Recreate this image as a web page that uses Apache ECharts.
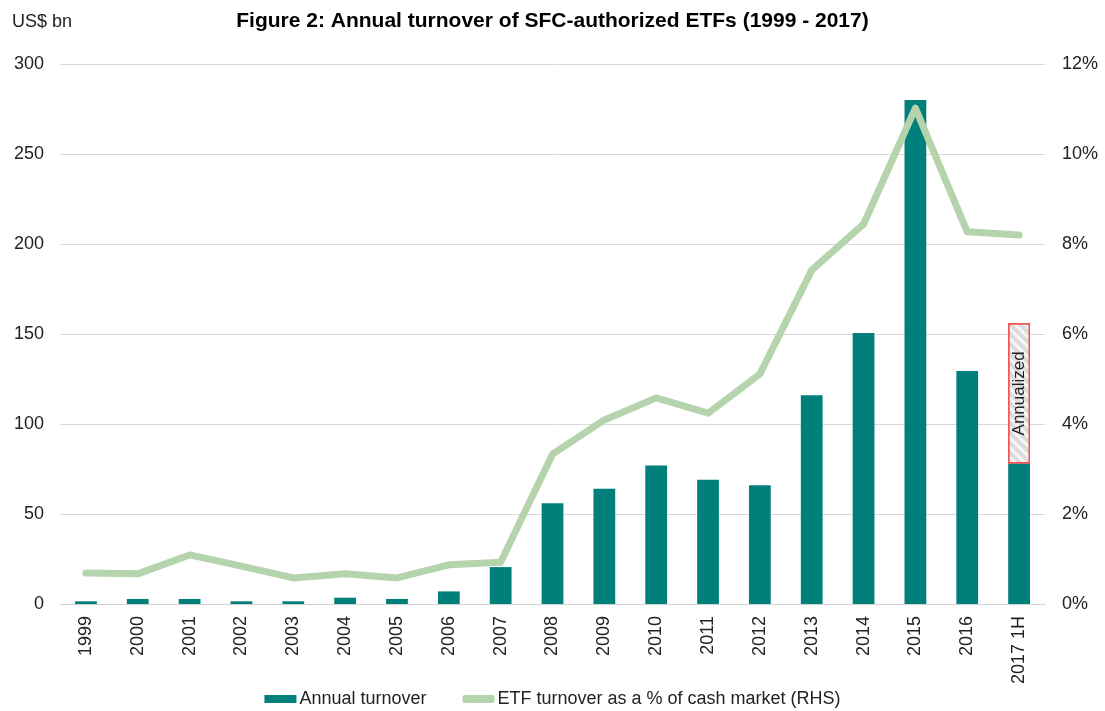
<!DOCTYPE html>
<html>
<head>
<meta charset="utf-8">
<script src="https://cdn.jsdelivr.net/npm/echarts@6/dist/echarts.min.js"></script>
<style>
  html, body { margin: 0; padding: 0; background: #ffffff; }
  #chart { width: 1105px; height: 711px; }
</style>
</head>
<body>
<div id="chart"></div>
<script>
// Years on the category axis
const years = ['1999', '2000', '2001', '2002', '2003', '2004', '2005', '2006', '2007', '2008',
  '2009', '2010', '2011', '2012', '2013', '2014', '2015', '2016', '2017 1H'];

// Annual turnover, US$ bn
const annualTurnover = [1.5, 2.8, 2.8, 1.5, 1.5, 3.5, 2.8, 7, 20.5, 56,
  64, 77, 69, 66, 116, 150.5, 280, 129.5, 78];

// Extra amount on top of the 2017 half-year figure to reach the annualized level
const annualizedExtra = [null, null, null, null, null, null, null, null, null, null,
  null, null, null, null, null, null, null, null, 78];

// ETF turnover as a percentage of the cash market (right axis)
const turnoverPct = [0.69, 0.67, 1.09, 0.84, 0.58, 0.67, 0.58, 0.87, 0.93, 3.33,
  4.09, 4.58, 4.24, 5.11, 7.42, 8.44, 11.02, 8.27, 8.2];

// Axis ticks
const leftTicks = { min: 0, max: 300, interval: 50 };
const rightTicks = { min: 0, max: 12, interval: 2 };

const FONT = '"Liberation Sans", Arial, sans-serif';
const chart = echarts.init(document.getElementById('chart'), null, { renderer: 'canvas' });

chart.setOption({
  animation: false,
  backgroundColor: '#ffffff',
  textStyle: { fontFamily: FONT },
  title: [
    {
      text: 'Figure 2: Annual turnover of SFC-authorized ETFs (1999 - 2017)',
      left: 'center',
      top: 6,
      textStyle: { fontFamily: FONT, fontSize: 21, fontWeight: 'bold', color: '#000000' }
    },
    {
      text: 'US$ bn',
      left: 7,
      top: 8,
      textStyle: { fontFamily: FONT, fontSize: 18, fontWeight: 'normal', color: '#222222' }
    }
  ],
  legend: {
    top: 685,
    left: 'center',
    itemGap: 36,
    itemWidth: 32,
    itemHeight: 8,
    textStyle: { fontFamily: FONT, fontSize: 18, color: '#222222', padding: [0, 0, 0, -2] },
    data: [
      { name: 'Annual turnover', icon: 'rect' },
      { name: 'ETF turnover as a % of cash market (RHS)', icon: 'roundRect' }
    ]
  },
  grid: { left: 60, right: 60, top: 64, bottom: 107, containLabel: false },
  xAxis: {
    type: 'category',
    data: years,
    axisLine: { lineStyle: { color: '#d0d0d0', width: 1 } },
    axisTick: { show: false },
    axisLabel: { rotate: 90, fontFamily: FONT, fontSize: 18, color: '#222222', margin: 12 }
  },
  yAxis: [
    {
      type: 'value',
      min: leftTicks.min,
      max: leftTicks.max,
      interval: leftTicks.interval,
      axisLine: { show: false },
      axisTick: { show: false },
      splitLine: { lineStyle: { color: '#d9d9d9', width: 1 } },
      axisLabel: { fontFamily: FONT, fontSize: 18, color: '#222222', margin: 16 }
    },
    {
      type: 'value',
      min: rightTicks.min,
      max: rightTicks.max,
      interval: rightTicks.interval,
      axisLine: { show: false },
      axisTick: { show: false },
      splitLine: { show: false },
      axisLabel: { fontFamily: FONT, fontSize: 18, color: '#222222', margin: 17, formatter: '{value}%' }
    }
  ],
  series: [
    {
      name: 'Annual turnover',
      type: 'bar',
      stack: 'turnover',
      barWidth: '42%',
      data: annualTurnover,
      itemStyle: { color: '#007f7b' },
      z: 2
    },
    {
      name: 'Annualized',
      type: 'bar',
      stack: 'turnover',
      barWidth: '42%',
      data: annualizedExtra,
      itemStyle: {
        color: '#e6e6e6',
        borderColor: '#f05050',
        borderWidth: 1.5,
        decal: {
          symbol: 'rect',
          symbolSize: 1,
          dashArrayX: [1, 0],
          dashArrayY: [3, 4],
          rotation: Math.PI / 4,
          color: 'rgba(250,250,250,0.9)',
          backgroundColor: '#dcdcdc'
        }
      },
      label: {
        show: true,
        position: 'inside',
        rotate: 90,
        formatter: 'Annualized',
        fontFamily: FONT,
        fontSize: 17,
        color: '#222222'
      },
      z: 2
    },
    {
      name: 'ETF turnover as a % of cash market (RHS)',
      type: 'line',
      yAxisIndex: 1,
      data: turnoverPct,
      symbol: 'none',
      smooth: false,
      lineStyle: { color: '#b5d4ae', width: 7, cap: 'round', join: 'round' },
      itemStyle: { color: '#b5d4ae' },
      z: 5
    }
  ]
});
</script>
</body>
</html>
